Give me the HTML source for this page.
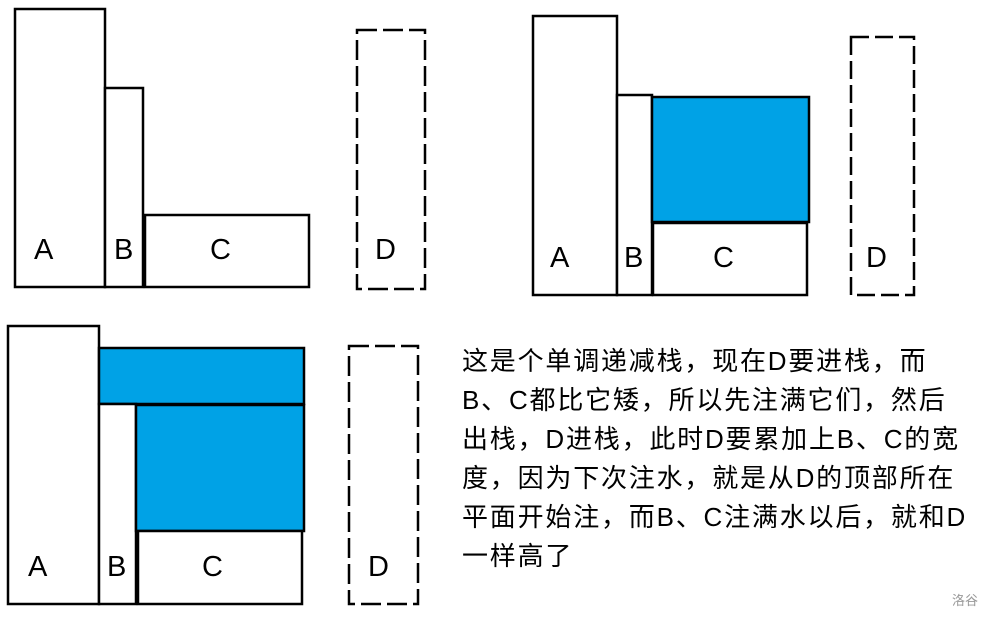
<!DOCTYPE html>
<html><head><meta charset="utf-8"><style>
body{margin:0;width:996px;height:619px;background:#fff;position:relative;overflow:hidden;font-family:"Liberation Sans","Noto Sans CJK SC",sans-serif}
.l{position:absolute;left:462px;font-size:26px;line-height:30px;white-space:nowrap;color:#000;letter-spacing:1.8px}
</style></head><body>
<svg width="996" height="619" style="position:absolute;left:0;top:0" font-family="Liberation Sans, sans-serif" font-size="29">
<g fill="#fff" stroke="#000" stroke-width="2.5">
<rect x="15" y="9" width="90" height="278"/>
<rect x="105" y="88" width="38" height="199"/>
<rect x="145" y="215" width="164" height="72"/>
<rect x="357" y="30" width="68" height="259" stroke-dasharray="20,6"/>

<rect x="533" y="16" width="84" height="279"/>
<rect x="617" y="95" width="35" height="200"/>
<rect x="652" y="97" width="157" height="125" fill="#00a2e6"/>
<rect x="653" y="223" width="154" height="72"/>
<rect x="851" y="37" width="63" height="258" stroke-dasharray="18,6"/>

<rect x="8" y="326" width="91" height="278"/>
<rect x="99" y="348" width="205" height="56" fill="#00a2e6"/>
<rect x="99" y="404" width="37" height="200"/>
<rect x="136" y="405" width="168" height="126" fill="#00a2e6"/>
<rect x="138" y="531" width="164" height="73"/>
<rect x="349" y="346" width="69" height="258" stroke-dasharray="20,6"/>
</g>
<g fill="#000">
<text x="34" y="259">A</text><text x="114" y="259">B</text><text x="210" y="259">C</text><text x="375" y="259">D</text>
<text x="550" y="267">A</text><text x="624" y="267">B</text><text x="713" y="267">C</text><text x="866" y="267">D</text>
<text x="28" y="576">A</text><text x="107" y="576">B</text><text x="202" y="576">C</text><text x="368" y="576">D</text>
</g>
</svg>
<div class="l" style="top:346px">这是个单调递减栈，现在D要进栈，而</div>
<div class="l" style="top:385px">B、C都比它矮，所以先注满它们，然后</div>
<div class="l" style="top:424px">出栈，D进栈，此时D要累加上B、C的宽</div>
<div class="l" style="top:463px">度，因为下次注水，就是从D的顶部所在</div>
<div class="l" style="top:502px">平面开始注，而B、C注满水以后，就和D</div>
<div class="l" style="top:541px">一样高了</div>
<div style="position:absolute;left:952px;top:590px;font-size:13px;color:#999">洛谷</div>
</body></html>
